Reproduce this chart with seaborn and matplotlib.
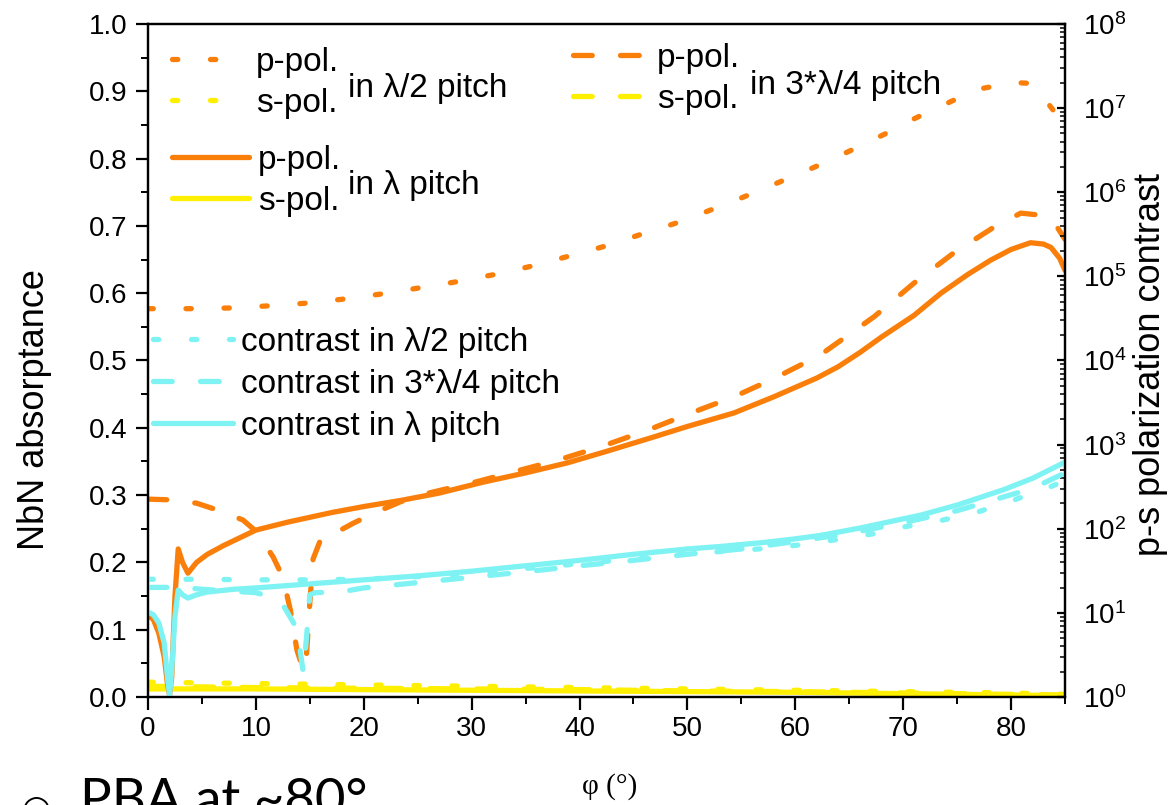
import matplotlib
matplotlib.use("Agg")
import matplotlib.pyplot as plt
from matplotlib.legend import Legend
from matplotlib.ticker import MultipleLocator, LogLocator, NullFormatter, FormatStrFormatter
import seaborn as sns

# ---- absorptance, p-polarisation ----
phi_p_half = [0, 4, 7.5, 11, 14.5, 18, 21.7, 25.2, 28.6, 32.2, 35.5, 39, 42.4, 45.8, 49.3,
              52.7, 56, 59.4, 62.6, 65.8, 69, 70.2, 73.5, 76.9, 80.3, 81.5, 82.9, 84, 85]
abs_p_half = [0.577, 0.577, 0.578, 0.581, 0.585, 0.591, 0.599, 0.608, 0.617, 0.628, 0.640,
              0.655, 0.670, 0.688, 0.706, 0.727, 0.748, 0.771, 0.793, 0.817, 0.842, 0.853,
              0.878, 0.903, 0.913, 0.912, 0.893, 0.870, 0.840]

phi_p_full = [0, 0.5, 1.0, 1.5, 1.8, 2.0, 2.2, 2.5, 2.8, 3.2, 3.7, 4.5, 5.5, 7, 10, 13, 17,
              20, 23.4, 27, 31, 35, 38.9, 42.5, 46.6, 50, 54.3, 58, 60, 62, 64, 66, 68, 71,
              73.5, 76, 78.1, 80, 81.8, 83, 83.7, 84.5, 85]
abs_p_full = [0.122, 0.115, 0.095, 0.060, 0.020, 0.003, 0.030, 0.150, 0.220, 0.200, 0.184,
              0.200, 0.212, 0.225, 0.248, 0.260, 0.274, 0.283, 0.292, 0.303, 0.319, 0.333,
              0.348, 0.365, 0.385, 0.402, 0.422, 0.446, 0.460, 0.474, 0.491, 0.512, 0.535,
              0.567, 0.600, 0.628, 0.649, 0.665, 0.675, 0.673, 0.668, 0.652, 0.634]

phi_p_3q = [0, 2, 4.5, 6.4, 8.8, 10.1, 11.6, 12.5, 13.2, 13.8, 14.3, 14.6, 14.8, 15.0, 15.3,
            16.1, 17.5, 19, 20.9, 23.4, 26, 30.5, 34, 38, 42, 46.4, 50, 54.3, 58, 62.3,
            67.3, 71, 74.7, 78.4, 80.9, 82.7, 84, 85]
abs_p_3q = [0.294, 0.293, 0.288, 0.278, 0.263, 0.245, 0.208, 0.178, 0.129, 0.070, 0.045,
            0.040, 0.090, 0.140, 0.205, 0.238, 0.245, 0.258, 0.273, 0.290, 0.303, 0.320,
            0.335, 0.352, 0.372, 0.397, 0.420, 0.446, 0.473, 0.508, 0.565, 0.615, 0.660,
            0.698, 0.719, 0.716, 0.705, 0.680]

# ---- absorptance, s-polarisation ----
phi_s = [0, 5, 10, 20, 30, 40, 50, 60, 70, 80, 85]
abs_s_half = [0.022, 0.021, 0.020, 0.018, 0.016, 0.014, 0.012, 0.010, 0.008, 0.006, 0.004]
abs_s_full = [0.012, 0.012, 0.012, 0.011, 0.010, 0.009, 0.008, 0.007, 0.005, 0.003, 0.002]
abs_s_3q = [0.016, 0.015, 0.014, 0.013, 0.012, 0.011, 0.009, 0.008, 0.006, 0.004, 0.003]

# ---- p/s polarisation contrast ----
phi_c_half = [0, 5, 10, 15, 20, 25, 30, 35, 40, 45, 50, 54, 57.5, 61, 64.7, 68.2, 70.2,
              73.7, 77.1, 80.5, 83.9, 85]
con_half = [25.1, 25.1, 24.7, 24.7, 25.1, 27.0, 29.6, 33.7, 38.4, 43.7, 50.6, 54.5, 58.6,
            65.5, 77.3, 91.2, 106, 127, 161, 225, 325, 377]

phi_c_3q = [0, 3, 5, 8, 10, 11.5, 12.5, 13.6, 14.1, 14.4, 14.7, 15.0, 15.5, 17.8, 20, 25,
            30, 35, 40, 45, 50, 55, 60, 65, 70, 75, 78, 82, 85]
con_3q = [20.1, 20.1, 19.1, 18.0, 17.4, 15.3, 12.5, 7.2, 3.6, 1.94, 5.2, 16.4, 17.4, 17.7,
          19.8, 22.9, 26.5, 30.8, 36.3, 42.1, 49.7, 57.5, 70.5, 87.9, 118, 164, 213, 302, 461]

phi_c_full = [0, 0.5, 1.0, 1.5, 1.8, 2.0, 2.2, 2.5, 2.8, 3.2, 3.7, 4.5, 5.5, 8, 10, 15, 20,
              25, 30, 35, 40, 45, 50, 53, 57, 60, 62.3, 66, 71.6, 75, 79.3, 82, 85]
con_full = [10.2, 9.5, 7.6, 4.4, 1.74, 1.06, 2.1, 9.1, 18.7, 16.4, 15.0, 16.4, 17.7, 19.1,
            19.8, 22.1, 24.7, 27.5, 31.3, 36.3, 42.1, 49.7, 57.5, 61.5, 68.5, 75.9, 83.2,
            102, 145, 191, 291, 398, 619]

ORANGE = "#FA7F0A"
YELLOW = "#FFEF00"
CYAN = "#7FF3F3"
LW = 3.8
DOT = (0, (1.0, 6.2))
DASH = (0, (3.55, 5.35))

sns.set_style("ticks")
plt.rcParams["font.family"] = ["Liberation Sans", "DejaVu Sans"]
plt.rcParams["mathtext.fontset"] = "custom"
plt.rcParams["mathtext.rm"] = "Liberation Sans"
plt.rcParams["mathtext.it"] = "Liberation Sans:italic"
plt.rcParams["axes.linewidth"] = 1.6
plt.rcParams.update({"text.color": "black", "axes.labelcolor": "black",
                     "xtick.color": "black", "ytick.color": "black",
                     "axes.edgecolor": "black"})

W, H = 1175, 805
fig = plt.figure(figsize=(W / 100, H / 100), dpi=100)
ax = fig.add_axes([148 / W, 108 / H, 917 / W, 673 / H])
ax2 = ax.twinx()


def draw(target, x, y, color, ls):
    n = len(target.lines)
    sns.lineplot(x=x, y=y, ax=target, color=color, linewidth=LW, linestyle=ls,
                 dash_capstyle="round", solid_capstyle="round", errorbar=None,
                 legend=False)
    return target.lines[n]


# absorptance curves (left axis)
l_s_half = draw(ax, phi_s, abs_s_half, YELLOW, DOT)
l_s_3q = draw(ax, phi_s, abs_s_3q, YELLOW, DASH)
l_s_full = draw(ax, phi_s, abs_s_full, YELLOW, "-")
l_p_half = draw(ax, phi_p_half, abs_p_half, ORANGE, DOT)
l_p_3q = draw(ax, phi_p_3q, abs_p_3q, ORANGE, DASH)
l_p_full = draw(ax, phi_p_full, abs_p_full, ORANGE, "-")

# contrast curves (right, logarithmic axis)
c_half = draw(ax2, phi_c_half, con_half, CYAN, DOT)
c_3q = draw(ax2, phi_c_3q, con_3q, CYAN, DASH)
c_full = draw(ax2, phi_c_full, con_full, CYAN, "-")

ax.set_xlim(0, 85)
ax.set_ylim(0, 1.0)
ax2.set_yscale("log")
ax2.set_ylim(1, 1e8)

ax.xaxis.set_major_locator(MultipleLocator(10))
ax.xaxis.set_minor_locator(MultipleLocator(5))
ax.yaxis.set_major_locator(MultipleLocator(0.1))
ax.yaxis.set_minor_locator(MultipleLocator(0.05))
ax.yaxis.set_major_formatter(FormatStrFormatter("%.1f"))
ax2.yaxis.set_major_locator(LogLocator(base=10, numticks=20))
ax2.yaxis.set_minor_locator(LogLocator(base=10, subs=range(2, 10), numticks=200))
ax2.yaxis.set_minor_formatter(NullFormatter())

ax.tick_params(axis="both", which="major", direction="out", length=9, width=1.6,
               labelsize=20)
ax.tick_params(axis="both", which="minor", direction="out", length=5, width=1.4)
ax.tick_params(axis="x", pad=5)
ax.tick_params(axis="y", pad=6, right=False)
ax.tick_params(top=False)
ax2.tick_params(axis="y", which="major", direction="in", length=6, width=1.6,
                labelsize=20, pad=13)
ax2.tick_params(axis="y", which="minor", direction="in", length=3.5, width=1.1)
for a in (ax, ax2):
    for s in a.spines.values():
        s.set_visible(True)
        s.set_linewidth(1.6)
        s.set_color("black")

ax.set_ylabel("NbN absorptance", fontsize=26)
ax.yaxis.label.set_va("center")
ax.yaxis.set_label_coords((35 - 148) / 917, (697 - 410) / 673)
ax2.set_ylabel("p-s polarization contrast", fontsize=26)
ax2.yaxis.label.set_va("center")
ax2.yaxis.set_label_coords((1150 - 148) / 917, (697 - 365) / 673)
ax.set_xlabel("φ (°)", fontsize=21, family=["Liberation Serif", "DejaVu Serif"])
ax.xaxis.label.set_va("center")
ax.xaxis.set_label_coords((610 - 148) / 917, (697 - 787) / 673)


def legend_at(handles, labels, x_px, y_px, hl, pad=0.27, spacing=0.3):
    leg = Legend(ax2, handles, labels, loc="upper left",
                 bbox_to_anchor=(x_px / W, 1 - y_px / H), bbox_transform=fig.transFigure,
                 frameon=False, borderpad=0, borderaxespad=0, handlelength=hl,
                 handletextpad=pad, labelspacing=spacing, fontsize=24)
    ax2.add_artist(leg)


legend_at([l_p_half, l_s_half], ["p-pol.", "s-pol."], 172, 47, 2.25)
legend_at([l_p_3q, l_s_3q], ["p-pol.", "s-pol."], 573, 43, 2.25)
legend_at([l_p_full, l_s_full], ["p-pol.", "s-pol."], 172, 145, 2.3)
legend_at([c_half, c_3q, c_full],
          ["contrast in λ/2 pitch", "contrast in 3*λ/4 pitch", "contrast in λ pitch"],
          153, 327, 2.4, pad=0.25, spacing=0.33)

fig.text(348 / W, 1 - 97 / H, "in λ/2 pitch", fontsize=24, va="baseline")
fig.text(348 / W, 1 - 194 / H, "in λ pitch", fontsize=24, va="baseline")
fig.text(750 / W, 1 - 94 / H, "in 3*λ/4 pitch", fontsize=24, va="baseline")

# slide bullet running along the lower edge
fig.text(21 / W, 1 - 818 / H, "○", fontsize=24, family=["DejaVu Sans"], va="baseline")
fig.text(80 / W, 1 - 816 / H, "PBA at ~80°", fontsize=38,
         family=["Lato", "DejaVu Sans"], va="baseline")

fig.savefig("out.png", dpi=100)
